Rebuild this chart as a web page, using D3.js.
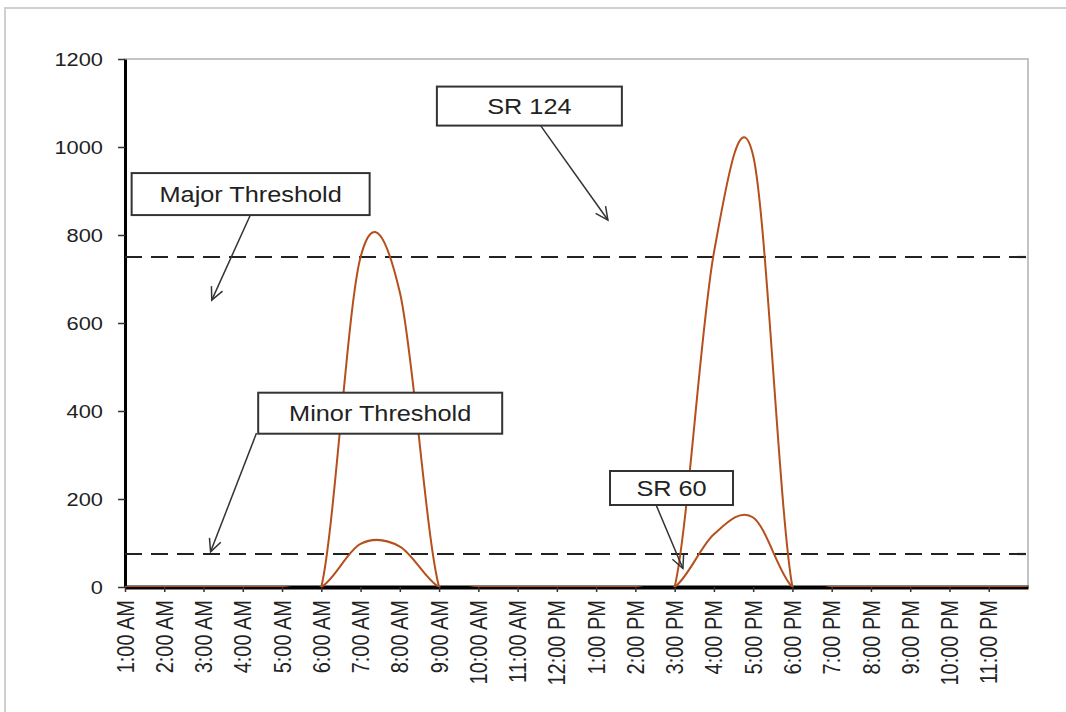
<!DOCTYPE html>
<html>
<head>
<meta charset="utf-8">
<script src="https://cdn.jsdelivr.net/npm/d3@7"></script>
<style>
    body { margin: 0; background: #fff; }
    text { font-family: "Liberation Sans", Arial, sans-serif; fill: #222; }
</style>
</head>
<body>
<div id="chart"></div>
<script>
// hourly categories, 1:00 AM .. 12:00 AM
const hours = d3.range(1, 25);
const hourLabels = ["1:00 AM", "2:00 AM", "3:00 AM", "4:00 AM", "5:00 AM", "6:00 AM", "7:00 AM", "8:00 AM",
    "9:00 AM", "10:00 AM", "11:00 AM", "12:00 PM", "1:00 PM", "2:00 PM", "3:00 PM", "4:00 PM", "5:00 PM",
    "6:00 PM", "7:00 PM", "8:00 PM", "9:00 PM", "10:00 PM", "11:00 PM"];
const sr124 = [0, 0, 0, 0, 0, 0, 750, 670, 0, 0, 0, 0, 0, 0, 0, 760, 980, 0, 0, 0, 0, 0, 0, 0];
const sr60 = [0, 0, 0, 0, 0, 0, 98, 92, 0, 0, 0, 0, 0, 0, 0, 120, 158, 0, 0, 0, 0, 0, 0, 0];
const yTicks = [0, 200, 400, 600, 800, 1000, 1200];
const thresholdNames = ["Major Threshold", "Minor Threshold"];
const thresholdValues = [750, 75];

// callouts: box centre and arrow in data units (hour, value)
const callouts = [
    {text: "SR 124", box: [11.30, 1093], from: [11.59, 1048], to: [13.30, 834]},
    {text: "Major Threshold", box: [4.20, 893], from: [4.19, 845], to: [3.21, 652]},
    {text: "Minor Threshold", box: [7.50, 395], from: [4.35, 350], to: [3.18, 80]},
    {text: "SR 60", box: [14.92, 225], from: [14.53, 186], to: [15.21, 42]}
];
const boxSizes = [[185, 39], [238, 42], [244, 41], [123, 34]];

const margin = {top: 59, right: 38, bottom: 125, left: 125};
const width = 1066 - margin.left - margin.right;
const height = 712 - margin.top - margin.bottom;
const stretch = 1.15;

const svg = d3.select("#chart").append("svg")
    .attr("width", 1066)
    .attr("height", 712);

// outer chart border
svg.append("rect")
    .attr("x", 5).attr("y", 8)
    .attr("width", 1200).attr("height", 900)
    .attr("fill", "none")
    .attr("stroke", "#cfcfcf")
    .attr("stroke-width", 2);

const g = svg.append("g")
    .attr("transform", "translate(" + margin.left + "," + margin.top + ")");

const x = d3.scaleLinear().domain([1, 24]).range([0, width]);
const y = d3.scaleLinear().domain([0, 1200]).range([height, 0]);

// plot area frame
g.append("rect")
    .attr("width", width).attr("height", height)
    .attr("fill", "none")
    .attr("stroke", "#c4c4c4")
    .attr("stroke-width", 2);

g.append("clipPath")
    .attr("id", "clip")
    .append("rect")
    .attr("width", width)
    .attr("height", height);

// y axis
const yAxis = g.append("g")
    .call(d3.axisLeft(y).tickValues(yTicks).tickFormat(d3.format("d")).tickSize(7).tickSizeOuter(0));
yAxis.select(".domain").attr("stroke", "#000").attr("stroke-width", 3);
yAxis.selectAll(".tick line").attr("stroke", "#333").attr("stroke-width", 1.5);
yAxis.selectAll(".tick text")
    .attr("x", 0)
    .attr("transform", "translate(-22,0) scale(" + stretch + ",1)")
    .style("font-size", "19px")
    .attr("fill", "#333");

// x axis
const xAxis = g.append("g")
    .attr("transform", "translate(0," + height + ")")
    .call(d3.axisBottom(x).tickValues(d3.range(1, 24)).tickFormat(d => hourLabels[d - 1]).tickSize(5).tickSizeOuter(0));
xAxis.select(".domain").attr("stroke", "#000").attr("stroke-width", 4);
xAxis.selectAll(".tick line").attr("stroke", "#333").attr("stroke-width", 1.5);
xAxis.selectAll(".tick text")
    .attr("x", 0).attr("y", 0)
    .attr("dy", "0.35em")
    .attr("text-anchor", "end")
    .attr("transform", "translate(0,13) scale(" + stretch + ",1) rotate(-90)")
    .style("font-size", "20px")
    .attr("fill", "#333");

// threshold lines
g.selectAll(".threshold")
    .data(thresholdValues)
    .enter()
    .append("line")
    .attr("class", "threshold")
    .attr("x1", 0).attr("x2", width)
    .attr("y1", d => y(d)).attr("y2", d => y(d))
    .attr("stroke", "#222")
    .attr("stroke-width", 2.2)
    .attr("stroke-dasharray", "17,9");

// smoothed series
const line = d3.line()
    .x((d, i) => x(hours[i]))
    .y(d => y(d))
    .curve(d3.curveCatmullRom.alpha(0));

g.selectAll(".serie")
    .data([sr60, sr124])
    .enter()
    .append("path")
    .attr("class", "serie")
    .attr("clip-path", "url(#clip)")
    .attr("fill", "none")
    .attr("stroke", "#b5501c")
    .attr("stroke-width", 2)
    .attr("d", d => line(d));

// callouts
callouts.forEach((c, i) => {
    const bw = boxSizes[i][0], bh = boxSizes[i][1];
    const cx = x(c.box[0]), cy = y(c.box[1]);
    const x1 = x(c.from[0]), y1 = y(c.from[1]);
    const x2 = x(c.to[0]), y2 = y(c.to[1]);
    const ang = Math.atan2(y2 - y1, x2 - x1);
    const head = 14, spread = 0.45;

    const cg = g.append("g").attr("class", "callout");
    cg.append("line")
        .attr("x1", x1).attr("y1", y1)
        .attr("x2", x2).attr("y2", y2)
        .attr("stroke", "#333").attr("stroke-width", 1.5);
    cg.append("path")
        .attr("d", "M" + (x2 - head * Math.cos(ang - spread)) + "," + (y2 - head * Math.sin(ang - spread)) +
            "L" + x2 + "," + y2 +
            "L" + (x2 - head * Math.cos(ang + spread)) + "," + (y2 - head * Math.sin(ang + spread)))
        .attr("fill", "none")
        .attr("stroke", "#333").attr("stroke-width", 1.5);
    cg.append("rect")
        .attr("x", cx - bw / 2).attr("y", cy - bh / 2)
        .attr("width", bw).attr("height", bh)
        .attr("fill", "#fff")
        .attr("stroke", "#333")
        .attr("stroke-width", 2);
    cg.append("text")
        .attr("transform", "translate(" + cx + "," + cy + ") scale(" + stretch + ",1)")
        .attr("text-anchor", "middle")
        .attr("dy", "0.36em")
        .style("font-size", "22px")
        .text(c.text);
});
</script>
</body>
</html>
